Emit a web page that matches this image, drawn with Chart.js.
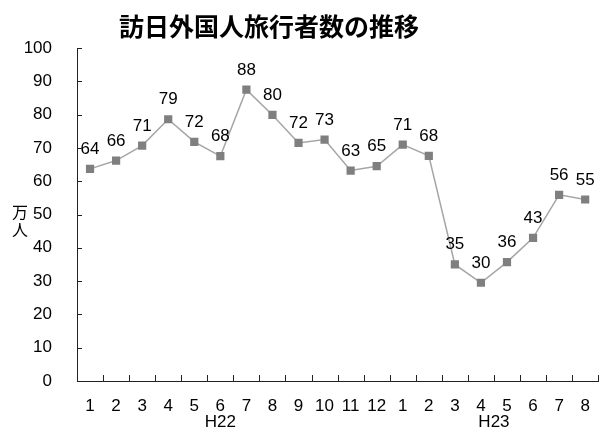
<!DOCTYPE html>
<html>
<head>
<meta charset="utf-8">
<script src="https://cdn.jsdelivr.net/npm/chart.js@4"></script>
<style>
  body { margin: 0; background: #fff; }
  #wrap { position: relative; width: 604px; height: 430px; }
  #title {
    position: absolute; left: 119px; top: 8px; width: 300px;
    text-align: center; font: bold 25px "Noto Sans CJK JP", sans-serif; color: #000;
    line-height: 34px; white-space: nowrap;
  }
</style>
</head>
<body>
<div id="wrap">
  <canvas id="chart" width="604" height="430"></canvas>
  <div id="title">訪日外国人旅行者数の推移</div>
</div>
<script>
// months (H22: 1-12, H23: 1-8)
const months = ['1','2','3','4','5','6','7','8','9','10','11','12','1','2','3','4','5','6','7','8'];
// visitors, 10,000 people
const visitors = [63.7, 66.2, 70.7, 78.6, 71.8, 67.5, 87.5, 79.9, 71.5, 72.5, 63.2, 64.5, 71.0, 67.6, 35.0, 29.5, 35.7, 43.0, 55.9, 54.5];
const eraLabels = ['H22', 'H23'];
const eraAnchors = [5, 15.5];
const yTitleChars = ['万', '人'];

const FONT = '"Liberation Sans", Arial, sans-serif';
const AXIS_COLOR = '#222';

// short tick marks drawn inside the plot area
const innerTicks = {
    id: 'innerTicks',
    afterDraw(chart) {
        const ctx = chart.ctx;
        const x = chart.scales.x, y = chart.scales.y;
        ctx.save();
        ctx.strokeStyle = AXIS_COLOR;
        ctx.lineWidth = 1;
        ctx.beginPath();
        y.ticks.forEach(t => {
            const py = Math.round(y.getPixelForValue(t.value)) + 0.5;
            ctx.moveTo(x.left, py);
            ctx.lineTo(x.left + 5, py);
        });
        for (let i = 1; i <= months.length; i++) {
            const px = Math.round(x.getPixelForValue(i - 0.5)) + 0.5;
            ctx.moveTo(px, y.bottom);
            ctx.lineTo(px, y.bottom - 6);
        }
        ctx.stroke();

        // era labels under month labels
        ctx.fillStyle = '#000';
        ctx.font = '17px ' + FONT;
        ctx.textAlign = 'center';
        ctx.textBaseline = 'middle';
        eraLabels.forEach((lab, i) => {
            ctx.fillText(lab, x.getPixelForValue(eraAnchors[i]), 422);
        });

        // vertical y title
        ctx.font = '16px "Noto Sans CJK JP", sans-serif';
        yTitleChars.forEach((ch, i) => {
            ctx.fillText(ch, 20, 212 + i * 18);
        });
        ctx.restore();
    }
};

// value labels above points
const valueLabels = {
    id: 'valueLabels',
    afterDatasetsDraw(chart) {
        const ctx = chart.ctx;
        const meta = chart.getDatasetMeta(0);
        ctx.save();
        ctx.fillStyle = '#000';
        ctx.font = '17px ' + FONT;
        ctx.textAlign = 'center';
        ctx.textBaseline = 'alphabetic';
        meta.data.forEach((pt, i) => {
            ctx.fillText(String(Math.round(visitors[i])), pt.x, pt.y - 15);
        });
        ctx.restore();
    }
};

new Chart(document.getElementById('chart'), {
    type: 'line',
    data: {
        labels: months,
        datasets: [{
            data: visitors,
            borderColor: '#a6a6a6',
            borderWidth: 1.5,
            pointStyle: 'rect',
            pointRadius: 5.8,
            pointBackgroundColor: '#7f7f7f',
            pointBorderColor: '#7f7f7f',
            pointBorderWidth: 0,
            tension: 0
        }]
    },
    options: {
        responsive: false,
        animation: false,
        layout: { padding: { top: 48, right: 1, left: 0, bottom: 0 } },
        plugins: {
            legend: { display: false },
            tooltip: { enabled: false },
            title: { display: false }
        },
        scales: {
            x: {
                offset: true,
                grid: { display: false },
                border: { display: true, color: AXIS_COLOR, width: 1 },
                ticks: { color: '#000', font: { size: 17, family: FONT }, padding: 7, maxRotation: 0, autoSkip: false },
                afterFit(scale) { scale.height = 49; }
            },
            y: {
                min: 0,
                max: 100,
                grid: { display: false },
                border: { display: true, color: AXIS_COLOR, width: 1 },
                ticks: { stepSize: 10, color: '#000', font: { size: 17, family: FONT }, padding: 17 },
                afterFit(scale) { scale.width = 77; }
            }
        }
    },
    plugins: [innerTicks, valueLabels]
});
</script>
</body>
</html>
